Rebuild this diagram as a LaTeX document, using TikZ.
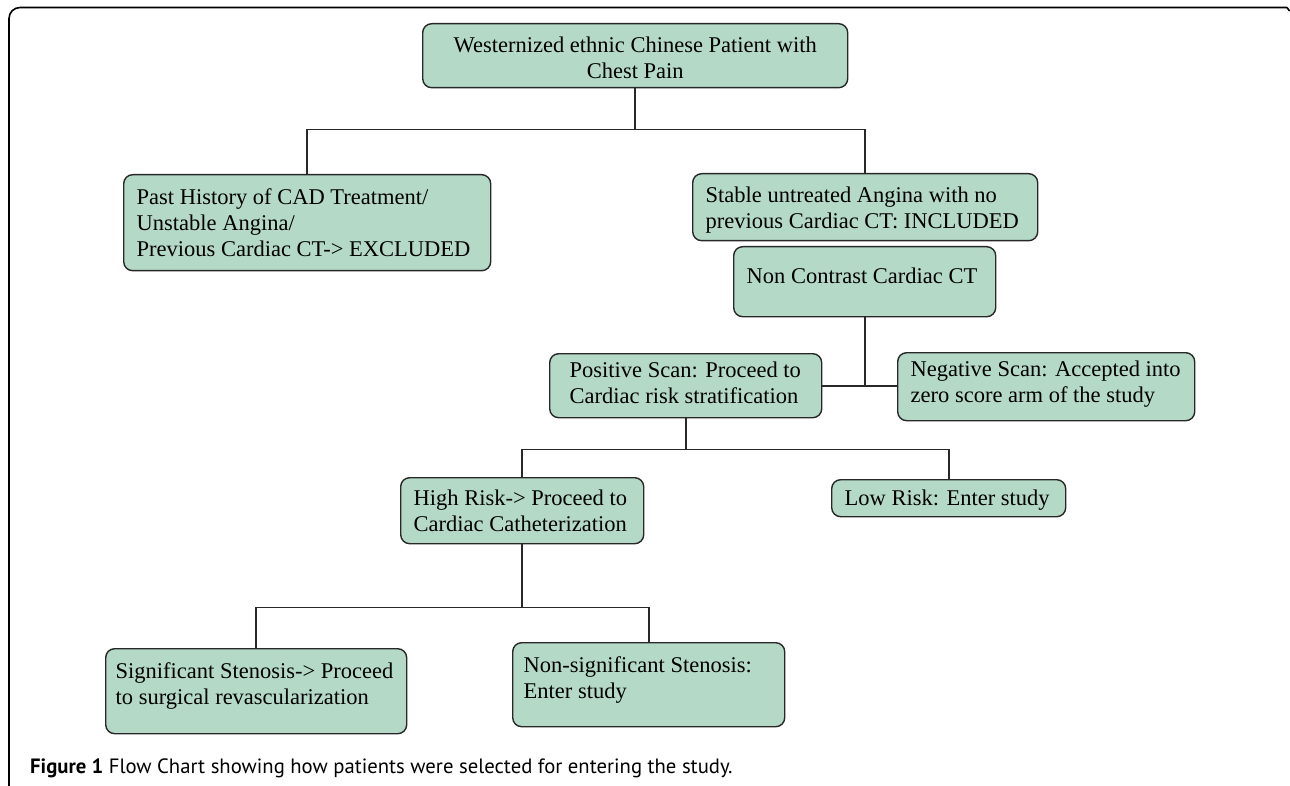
\documentclass[tikz,border=0pt]{standalone}
\usepackage{fontspec}
\setmainfont{Liberation Serif}
\newfontfamily\capfont{PT Sans}
\usetikzlibrary{positioning}
\definecolor{boxgreen}{RGB}{180,218,199}
\definecolor{linegray}{RGB}{40,40,40}
\tikzset{flowbox/.style={draw=linegray,fill=boxgreen,line width=1.4pt,rounded corners=9pt,
    inner sep=0pt,anchor=north west}}
\tikzset{link/.style={draw=linegray,line width=1.6pt}}
\tikzset{frame/.style={draw=black,line width=1.6pt}}
% text block: width, height, lines
\newcommand{\boxlines}[3]{\parbox[c][#2pt][t]{#1pt}{#3}}

\begin{document}
\begin{tikzpicture}[
		x=1pt, y=-1pt, % pixel grid
		font=\fontsize{22.5}{26}\selectfont
		]
		\useasboundingbox (0,0) rectangle (1290,786);
		
		% outer frame
		\draw[frame, rounded corners=11pt] (1287,7.5) -- (9,7.5) -- (9,786);
		\draw[frame] (1287,7.5) -- (1289.5,11);
		
		% boxes
		\node[flowbox, minimum width=425, minimum height=64] (chest) at (422,23)
		{\boxlines{399}{36.8}{\centering Westernized ethnic Chinese Patient with\\ Chest Pain}};
		\node[flowbox, minimum width=367, minimum height=96] (excl) at (123,174)
		{\boxlines{341}{68.8}{\raggedright Past History of CAD Treatment/\\ Unstable Angina/\\ Previous Cardiac CT-> EXCLUDED}};
		\node[flowbox, minimum width=345, minimum height=67] (incl) at (692,173)
		{\boxlines{319}{39.8}{\raggedright Stable untreated Angina with no\\ previous Cardiac CT: INCLUDED}};
		\node[flowbox, minimum width=262, minimum height=70] (ncct) at (733,246)
		{\boxlines{236}{26.8}{\raggedright Non Contrast Cardiac CT}};
		\node[flowbox, minimum width=272, minimum height=64] (pos) at (549,353)
		{\boxlines{232}{46.8}{\raggedright Positive Scan: Proceed to\\ Cardiac risk stratification}};
		\node[flowbox, minimum width=297, minimum height=68] (neg) at (897,352)
		{\boxlines{271}{52}{\raggedright Negative Scan: Accepted into\\ zero score arm of the study}};
		\node[flowbox, minimum width=243, minimum height=66] (high) at (400,477)
		{\boxlines{217}{40.8}{\raggedright High Risk-> Proceed to\\ Cardiac Catheterization}};
		\node[flowbox, minimum width=234, minimum height=37] (low) at (831,479)
		{\boxlines{208}{16.8}{\raggedright Low Risk: Enter study}};
		\node[flowbox, minimum width=301, minimum height=85] (sig) at (105,648)
		{\boxlines{281}{57.8}{\raggedright Significant Stenosis-> Proceed\\ to surgical revascularization}};
		\node[flowbox, minimum width=272, minimum height=84] (nonsig) at (512,642)
		{\boxlines{250}{56.8}{\raggedright Non-significant Stenosis:\\ Enter study}};
		
		% caption
		\node[anchor=base west, inner sep=0pt, font=\capfont\fontsize{20.7}{24}\selectfont] (cap) at (30,773)
		{\textbf{Figure 1} Flow Chart showing how patients were selected for entering the study.};
		
		% first split
		\draw[link] (chest.south) -- ++(0,41) coordinate (t1);
		\draw[link] (t1) -| (excl.north);
		\draw[link] (t1) -| (incl.north);
		
		% scan result
		\coordinate (j1) at (ncct.south |- pos.east);
		\draw[link] (ncct.south) -- (j1);
		\draw[link] (pos.east) -- (pos.east -| neg.west);
		
		% risk split
		\draw[link] (pos.south) -- ++(0,31) coordinate (t2);
		\draw[link] (t2) -| (high.north);
		\draw[link] (t2) -| (low.north);
		
		% stenosis split
		\draw[link] (high.south) -- ++(0,63) coordinate (t3);
		\draw[link] (t3) -| (sig.north);
		\draw[link] (t3) -| (nonsig.north);
\end{tikzpicture}
\end{document}
